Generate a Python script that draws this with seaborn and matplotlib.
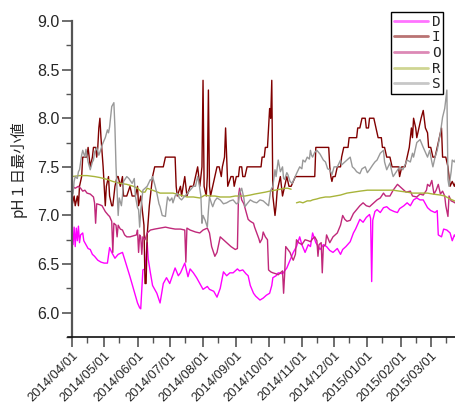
import datetime as dt
import pandas as pd
import matplotlib
matplotlib.use("Agg")
import matplotlib.pyplot as plt
import matplotlib.dates as mdates
from matplotlib.lines import Line2D
from matplotlib.ticker import MultipleLocator, FormatStrFormatter
import seaborn as sns

START = pd.Timestamp("2014-04-01")

# Daily minimum pH per station (day offset from 2014/04/01, value)
d_days = [0, 1, 2, 3, 4, 5, 6, 7, 8, 10, 11, 13, 15, 17, 19, 21, 24, 27, 30, 33, 35, 37, 40, 43,
          47, 49, 54, 59, 61, 63, 64, 66, 68, 70, 71, 73, 75, 79, 82, 85, 88, 91, 96, 99, 101, 105,
          108, 110, 113, 116, 119, 122, 126, 128, 132, 135, 138, 141, 144, 147, 150, 154, 156, 159,
          162, 164, 166, 169, 171, 175, 178, 181, 184, 186, 187, 190, 192, 196, 200, 203, 206, 209,
          212, 214, 217, 220, 222, 224, 227, 231, 234, 237, 240, 243, 247, 250, 252, 255, 259, 262,
          264, 268, 271, 274, 277, 278, 279, 280, 282, 284, 287, 290, 293, 296, 300, 303, 305, 309,
          312, 315, 318, 321, 324, 327, 331, 334, 338, 340, 341, 344, 346, 349, 352, 354, 356, 358]
d_vals = [6.77, 6.70, 6.88, 6.68, 6.87, 6.74, 6.89, 6.72, 6.80, 6.82, 6.74, 6.70, 6.66, 6.65, 6.60,
          6.58, 6.54, 6.52, 6.51, 6.51, 6.67, 6.62, 6.56, 6.60, 6.62, 6.55, 6.37, 6.18, 6.10, 6.05,
          6.04, 6.44, 6.45, 6.72, 6.55, 6.41, 6.28, 6.20, 6.10, 6.30, 6.36, 6.30, 6.46, 6.38, 6.41,
          6.51, 6.37, 6.45, 6.41, 6.36, 6.30, 6.24, 6.27, 6.24, 6.22, 6.16, 6.25, 6.42, 6.38, 6.41,
          6.41, 6.45, 6.43, 6.44, 6.40, 6.38, 6.28, 6.20, 6.17, 6.13, 6.15, 6.18, 6.20, 6.28, 6.36,
          6.38, 6.41, 6.40, 6.46, 6.54, 6.62, 6.68, 6.78, 6.70, 6.62, 6.70, 6.68, 6.82, 6.72, 6.65,
          6.70, 6.68, 6.64, 6.62, 6.66, 6.60, 6.65, 6.68, 6.73, 6.82, 6.86, 6.96, 6.93, 6.98, 7.01,
          6.97, 6.32, 6.95, 7.04, 7.06, 7.03, 7.08, 7.09, 7.06, 7.04, 7.03, 7.07, 7.10, 7.13, 7.10,
          7.16, 7.18, 7.16, 7.16, 7.08, 7.05, 7.03, 7.05, 6.80, 6.78, 6.86, 6.85, 6.82, 6.74, 6.80,
          6.76]

i_days = [0, 2, 3, 5, 6, 7, 9, 10, 12, 14, 15, 17, 19, 20, 22, 23, 24, 25, 26, 27, 29, 31, 32, 34,
          35, 37, 38, 40, 42, 43, 45, 47, 48, 51, 54, 56, 59, 61, 62, 64, 66, 67, 68, 69, 70, 72,
          74, 75, 77, 79, 82, 85, 87, 88, 91, 94, 96, 97, 98, 101, 102, 105, 107, 110, 113, 115,
          117, 119, 121, 122, 123, 125, 126, 127, 128, 129, 131, 133, 135, 137, 139, 140, 142, 143,
          144, 145, 148, 150, 151, 153, 155, 156, 158, 159, 161, 163, 166, 169, 171, 174, 176, 177,
          179, 180, 182, 183, 184, 185, 186, 187, 188, 189, 190, 191, 192, 194, 195, 196, 198, 200,
          202, 204, 208, 212, 217, 222, 226, 227, 231, 236, 239, 240, 241, 242, 243, 245, 247, 250,
          251, 253, 257, 258, 265, 266, 268, 270, 273, 274, 276, 277, 281, 283, 285, 288, 289, 291,
          293, 296, 298, 304, 305, 307, 310, 312, 314, 316, 317, 318, 320, 321, 323, 325, 327, 329,
          331, 332, 334, 336, 338, 340, 342, 344, 345, 348, 350, 352, 354, 356, 358]
i_vals = [7.1, 7.2, 7.1, 7.2, 7.1, 7.3, 7.4, 7.6, 7.6, 7.6, 7.7, 7.5, 7.6, 7.7, 7.7, 7.6, 7.7, 7.9,
          8.0, 7.8, 7.5, 7.1, 7.3, 7.4, 7.2, 7.1, 7.1, 7.3, 7.4, 7.4, 7.3, 7.4, 7.2, 7.2, 7.3, 7.2,
          7.2, 7.3, 7.1, 7.2, 7.0, 6.9, 6.3, 6.3, 6.8, 7.1, 7.3, 7.4, 7.5, 7.5, 7.5, 7.5, 7.6, 7.6,
          7.6, 7.6, 7.6, 7.3, 7.2, 7.3, 7.2, 7.4, 7.2, 7.3, 7.3, 7.4, 7.5, 7.3, 7.5, 8.39, 7.3, 7.2,
          7.4, 8.29, 7.3, 7.2, 7.3, 7.4, 7.5, 7.5, 7.4, 7.5, 7.6, 7.9, 7.6, 7.3, 7.4, 7.4, 7.3, 7.4,
          7.4, 7.5, 7.5, 7.4, 7.4, 7.5, 7.5, 7.5, 7.5, 7.5, 7.5, 7.6, 7.6, 7.7, 7.7, 7.9, 8.1, 8.0,
          8.39, 7.2, 7.1, 7.0, 7.1, 7.25, 7.3, 7.4, 7.3, 7.2, 7.3, 7.4, 7.3, 7.3, 7.4, 7.4, 7.4,
          7.4, 7.4, 7.7, 7.7, 7.7, 7.7, 7.5, 7.4, 7.35, 7.4, 7.4, 7.5, 7.5, 7.6, 7.7, 7.7, 7.8, 7.8,
          7.9, 7.9, 8.0, 8.0, 7.9, 7.9, 8.0, 8.0, 7.9, 7.8, 7.8, 7.7, 7.7, 7.6, 7.6, 7.5, 7.5, 7.4,
          7.5, 7.5, 7.6, 7.7, 7.9, 7.8, 8.0, 7.9, 7.8, 7.9, 8.0, 8.08, 7.9, 7.85, 7.7, 7.7, 7.6,
          7.6, 7.7, 7.8, 7.9, 7.6, 7.6, 7.5, 7.3, 7.35, 7.3, 7.37]

o_days = [0, 3, 6, 8, 10, 12, 14, 17, 20, 21, 22, 23, 26, 28, 31, 34, 35, 37, 38, 39, 41, 42, 43,
          45, 47, 49, 51, 54, 57, 60, 61, 62, 63, 64, 65, 66, 68, 70, 73, 77, 82, 87, 91, 96, 101,
          105, 106, 107, 110, 115, 119, 122, 126, 128, 129, 130, 133, 135, 138, 140, 142, 145, 148,
          152, 154, 155, 156, 157, 158, 160, 162, 164, 166, 169, 170, 172, 174, 175, 177, 178, 180,
          182, 183, 185, 187, 190, 192, 194, 196, 197, 198, 199, 201, 203, 205, 206, 208, 209, 211,
          214, 217, 220, 222, 224, 226, 228, 229, 230, 232, 233, 234, 236, 237, 240, 243, 245, 247,
          250, 252, 254, 256, 259, 262, 265, 268, 271, 274, 277, 280, 284, 287, 290, 292, 296, 299,
          303, 305, 308, 311, 315, 317, 321, 324, 327, 330, 331, 333, 335, 337, 339, 341, 343, 345,
          347, 348, 350, 351, 353, 355, 358]
o_vals = [7.30, 7.28, 7.30, 7.28, 7.25, 7.26, 7.23, 7.22, 7.19, 7.13, 6.92, 7.12, 7.11, 7.10, 7.04,
          7.00, 6.99, 6.94, 6.62, 6.92, 6.90, 6.78, 6.90, 6.86, 6.85, 6.80, 6.78, 6.78, 6.79, 6.80,
          6.85, 6.62, 6.80, 6.78, 6.60, 6.78, 6.75, 6.82, 6.85, 6.86, 6.87, 6.88, 6.87, 6.86, 6.86,
          6.85, 6.52, 6.87, 6.85, 6.83, 6.82, 6.85, 6.87, 6.82, 6.75, 6.68, 6.58, 6.62, 6.78, 6.76,
          6.74, 6.71, 6.68, 6.65, 6.66, 7.20, 7.28, 7.22, 7.16, 7.12, 7.04, 6.96, 6.94, 6.92, 6.88,
          6.82, 6.76, 6.72, 6.76, 6.83, 6.78, 6.75, 6.44, 6.42, 6.41, 6.40, 6.39, 6.41, 6.43, 6.20,
          6.40, 6.68, 6.65, 6.62, 6.56, 6.54, 6.60, 6.75, 6.72, 6.70, 6.75, 6.74, 6.73, 6.76, 6.78,
          6.74, 6.58, 6.70, 6.72, 6.41, 6.68, 6.70, 6.80, 6.72, 6.78, 6.80, 6.82, 6.90, 7.00, 6.96,
          6.94, 6.95, 7.02, 7.06, 7.10, 7.13, 7.10, 7.09, 7.12, 7.16, 7.18, 7.23, 7.20, 7.20, 7.26,
          7.32, 7.30, 7.27, 7.24, 7.25, 7.20, 7.19, 7.22, 7.21, 7.26, 7.32, 7.30, 7.36, 7.22, 7.26,
          7.32, 7.22, 7.25, 7.20, 7.10, 6.99, 7.20, 7.15, 7.14, 7.12]

# Station R has a break in its record in late October
r_days_a = [0, 7, 14, 21, 26, 33, 38, 45, 51, 57, 61, 65, 68, 70, 75, 82, 88, 94, 101, 107, 113,
            119, 124, 128, 133, 138, 142, 147, 152, 156, 161, 166, 170, 175, 180, 184, 189, 194,
            198, 201, 204]
r_vals_a = [7.40, 7.41, 7.41, 7.40, 7.39, 7.37, 7.35, 7.33, 7.32, 7.30, 7.28, 7.24, 7.24, 7.28,
            7.26, 7.23, 7.23, 7.23, 7.21, 7.19, 7.19, 7.18, 7.21, 7.20, 7.20, 7.19, 7.19, 7.19,
            7.20, 7.20, 7.20, 7.21, 7.22, 7.23, 7.24, 7.25, 7.26, 7.27, 7.28, 7.28, 7.27]
r_days_b = [209, 212, 215, 219, 222, 224, 228, 231, 236, 240, 245, 250, 256, 262, 268, 275, 280,
            287, 293, 299, 305, 312, 317, 324, 331, 336, 343, 347, 352, 358]
r_vals_b = [7.13, 7.14, 7.13, 7.15, 7.15, 7.16, 7.17, 7.18, 7.19, 7.19, 7.20, 7.21, 7.23, 7.24,
            7.25, 7.26, 7.26, 7.26, 7.26, 7.26, 7.25, 7.24, 7.23, 7.23, 7.23, 7.22, 7.21, 7.20,
            7.17, 7.14]

s_days = [0, 1, 2, 3, 5, 6, 7, 9, 10, 12, 13, 15, 17, 19, 20, 21, 23, 25, 26, 28, 29, 31, 33, 34,
          35, 37, 39, 40, 41, 42, 43, 44, 46, 47, 48, 51, 53, 56, 58, 59, 61, 62, 63, 64, 66, 68,
          70, 73, 74, 75, 77, 79, 81, 82, 84, 87, 88, 89, 91, 93, 94, 96, 98, 100, 102, 105, 107,
          110, 113, 115, 117, 118, 120, 121, 122, 124, 126, 127, 128, 130, 131, 133, 135, 138, 141,
          144, 147, 150, 153, 155, 156, 158, 160, 161, 163, 166, 169, 172, 175, 178, 181, 183, 185,
          187, 189, 190, 192, 194, 196, 197, 198, 200, 201, 203, 205, 207, 209, 212, 214, 215, 217,
          219, 221, 222, 223, 224, 226, 228, 231, 234, 236, 238, 240, 242, 244, 247, 250, 251, 254,
          257, 259, 261, 263, 265, 268, 270, 273, 275, 277, 280, 282, 284, 287, 290, 291, 293, 296,
          298, 299, 302, 305, 308, 310, 312, 315, 317, 318, 321, 324, 327, 329, 331, 333, 335, 336,
          338, 340, 343, 345, 347, 349, 350, 351, 353, 354, 356, 358]
s_vals = [7.30, 7.22, 7.35, 7.40, 7.38, 7.45, 7.47, 7.62, 7.67, 7.60, 7.68, 7.55, 7.47, 7.55, 7.57,
          7.65, 7.70, 7.62, 7.65, 7.72, 7.75, 7.80, 7.88, 7.85, 7.91, 8.12, 8.16, 7.90, 7.50, 7.26,
          7.00, 7.18, 7.10, 7.20, 7.35, 7.40, 7.38, 7.33, 7.38, 7.20, 7.08, 7.06, 6.88, 7.05, 7.26,
          7.28, 7.30, 7.37, 7.36, 7.40, 7.32, 7.23, 7.12, 7.09, 7.00, 6.99, 7.10, 7.19, 7.15, 7.18,
          7.13, 7.20, 7.23, 7.18, 7.16, 7.20, 7.22, 7.26, 7.30, 7.30, 7.40, 7.35, 7.20, 6.92, 7.00,
          6.95, 6.88, 7.05, 7.19, 7.12, 7.09, 7.15, 7.18, 7.16, 7.12, 7.13, 7.15, 7.16, 7.12, 7.13,
          7.23, 7.28, 7.18, 7.09, 7.12, 7.16, 7.14, 7.13, 7.16, 7.15, 7.12, 7.10, 7.26, 7.30, 7.47,
          7.40, 7.57, 7.45, 7.50, 7.38, 7.37, 7.44, 7.42, 7.35, 7.33, 7.38, 7.43, 7.50, 7.48, 7.57,
          7.55, 7.60, 7.58, 7.67, 7.62, 7.60, 7.65, 7.67, 7.63, 7.57, 7.55, 7.48, 7.47, 7.42, 7.50,
          7.50, 7.57, 7.52, 7.55, 7.58, 7.60, 7.50, 7.48, 7.45, 7.43, 7.48, 7.50, 7.44, 7.47, 7.52,
          7.55, 7.57, 7.64, 7.67, 7.55, 7.47, 7.54, 7.44, 7.40, 7.45, 7.50, 7.47, 7.52, 7.57, 7.55,
          7.64, 7.60, 7.75, 7.78, 7.70, 7.65, 7.60, 7.67, 7.55, 7.50, 7.60, 7.67, 7.85, 8.01, 8.10,
          8.29, 7.37, 7.30, 7.45, 7.57, 7.55, 7.60]

stations = ["D", "I", "O", "R", "S"]
colors = ["#ff00ff", "#800000", "#c0287a", "#a8b43a", "#999999"]
y_label = "pH１日最小値"


def frame(name, days, vals, part=0):
    return pd.DataFrame({
        "date": START + pd.to_timedelta(days, unit="D"),
        "pH": vals,
        "station": name,
        "part": f"{name}{part}",
    })


df = pd.concat([
    frame("D", d_days, d_vals),
    frame("I", i_days, i_vals),
    frame("O", o_days, o_vals),
    frame("R", r_days_a, r_vals_a, 0),
    frame("R", r_days_b, r_vals_b, 1),
    frame("S", s_days, s_vals),
], ignore_index=True)

sns.set_style("ticks")
plt.rcParams["font.family"] = ["Liberation Sans", "DejaVu Sans"]

W, H = 456, 403
fig = plt.figure(figsize=(W / 100, H / 100), dpi=100)
ax = fig.add_axes([68 / W, 1 - 337 / H, 388 / W, 316 / H])

palette = dict(zip(stations, colors))
sns.lineplot(data=df, x="date", y="pH", hue="station", hue_order=stations,
             units="part", estimator=None, palette=palette, linewidth=1.0,
             legend=False, ax=ax)

ax.set_xlim(START - pd.Timedelta(hours=89), START + pd.Timedelta(hours=357.5 * 24))
ax.set_ylim(5.75, 9.0)

ax.spines["top"].set_visible(False)
ax.spines["right"].set_visible(False)
ax.spines["left"].set_position(("data", mdates.date2num(START)))
ax.spines["left"].set_color("#555555")
ax.spines["left"].set_linewidth(1.6)
ax.spines["bottom"].set_color("#111111")
ax.spines["bottom"].set_linewidth(1.2)

ax.xaxis.set_major_locator(mdates.MonthLocator(bymonthday=1))
ax.xaxis.set_minor_locator(mdates.MonthLocator(bymonthday=15))
ax.xaxis.set_major_formatter(mdates.DateFormatter("%Y/%m/%d"))
ax.yaxis.set_major_locator(MultipleLocator(0.5))
ax.yaxis.set_minor_locator(MultipleLocator(0.25))
ax.yaxis.set_major_formatter(FormatStrFormatter("%.1f"))

ax.tick_params(which="major", direction="out", length=7, width=1.2, color="#555555")
ax.tick_params(which="minor", direction="out", length=4, width=1.0, color="#555555")
ax.tick_params(axis="y", labelsize=11.5, pad=2)
ax.tick_params(axis="x", labelsize=9.3, pad=2)
for lab in ax.get_xticklabels():
    lab.set_rotation(45)
    lab.set_ha("right")
    lab.set_va("top")
    lab.set_rotation_mode("anchor")

ax.set_xlabel("")
ax.set_ylabel("")
fig.text(18 / W, 1 - 169 / H, y_label, rotation=90, ha="center", va="center",
         fontsize=11, family=["Noto Sans CJK JP", "DejaVu Sans"])

handles = [Line2D([], [], color=c, lw=2.0, alpha=0.55) for c in colors]
leg = ax.legend(handles, stations, loc="upper right",
                bbox_to_anchor=(443.5 / W, 1 - 11.7 / H), bbox_transform=fig.transFigure,
                borderaxespad=0, frameon=True, fancybox=False, edgecolor="black",
                framealpha=1, handlelength=2.4, handletextpad=0.25, borderpad=0.2,
                labelspacing=0.12, prop={"family": "DejaVu Sans Mono", "size": 10.3})
leg.get_frame().set_linewidth(1.0)

fig.savefig("out.png", dpi=100)
